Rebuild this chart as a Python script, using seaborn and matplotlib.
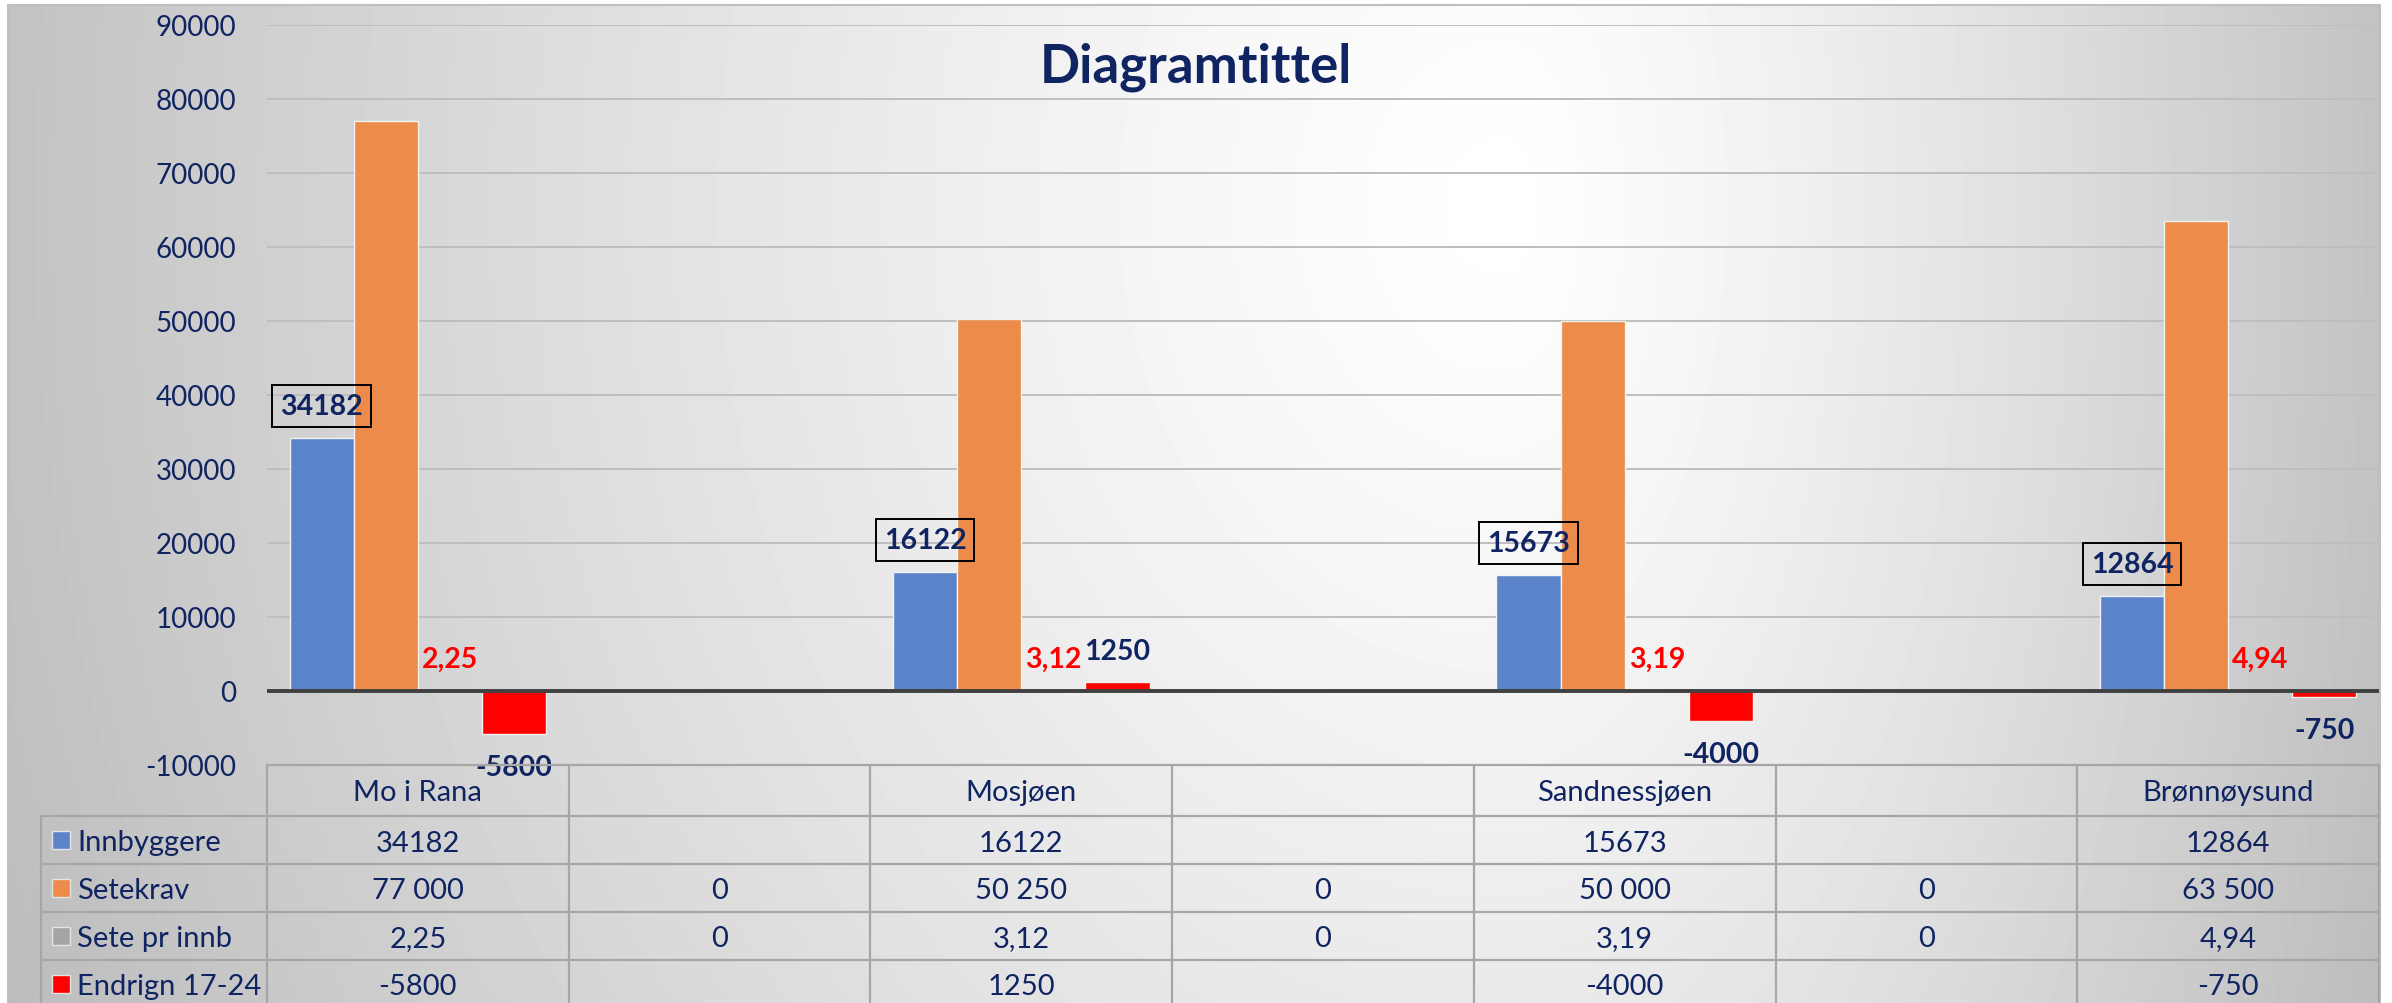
import numpy as np
import pandas as pd
import matplotlib
matplotlib.use("Agg")
import matplotlib.pyplot as plt
import matplotlib.transforms as mtransforms
from matplotlib.patches import Rectangle
from matplotlib.lines import Line2D
import seaborn as sns

# ---------------- data ----------------
categories = ["Mo i Rana", "", "Mosjøen", "", "Sandnessjøen", "", "Brønnøysund"]
series_names = ["Innbyggere", "Setekrav", "Sete pr innb", "Endrign 17-24"]
innbyggere = [34182, None, 16122, None, 15673, None, 12864]
setekrav = [77000, 0, 50250, 0, 50000, 0, 63500]
sete_pr_innb = [2.25, 0, 3.12, 0, 3.19, 0, 4.94]
endring = [-5800, None, 1250, None, -4000, None, -750]
y_ticks = [-10000, 0, 10000, 20000, 30000, 40000, 50000, 60000, 70000, 80000, 90000]
title = "Diagramtittel"

series_values = [innbyggere, setekrav, sete_pr_innb, endring]
colors = ["#5B83C9", "#EC8B4A", "#A5A5A5", "#FF0000"]
NAVY = "#0F2461"

sns.set_theme(style="white")
plt.rcParams["font.family"] = ["Lato", "DejaVu Sans"]

W, H = 2392, 1004
fig = plt.figure(figsize=(W / 100, H / 100), dpi=100)
fig.patch.set_facecolor("white")


def fy(px):
    return 1 - px / H


def fx(px):
    return px / W


# ---------------- background gradient ----------------
bg = fig.add_axes([0, 0, 1, 1], zorder=-10)
ny, nx = 251, 598
xs = np.linspace(0, 1, nx)
ys = np.linspace(0, 1, ny)
X, Y = np.meshgrid(xs, ys)
cxg = 0.63
dx = np.where(X < cxg, (cxg - X) / cxg, (X - cxg) / (1 - cxg))
dy = (Y - 0.2)
d = np.sqrt(dx ** 2 + 0.3 * dy ** 2)
g = 255 - 60 * np.clip(d, 0, 1.15) ** 1.25
img = np.clip(g, 0, 255) / 255.0
bg.imshow(img, cmap="gray", vmin=0, vmax=1,
          extent=(fx(8), fx(2380), 0, fy(6)), aspect="auto",
          interpolation="bilinear")
bg.set_xlim(0, 1)
bg.set_ylim(0, 1)
bg.axis("off")
for xs_, ys_ in [([fx(8), fx(2380)], [fy(6), fy(6)]),
                 ([fx(8), fx(8)], [0, fy(6)]),
                 ([fx(2380), fx(2380)], [0, fy(6)])]:
    bg.add_line(Line2D(xs_, ys_, color="#BFBFBF", lw=1.5, transform=fig.transFigure))

# ---------------- main axes ----------------
ax = fig.add_axes([fx(267), fy(766), fx(2379) - fx(267), (766 - 26) / H])
ax.set_facecolor("none")

rows = []
for name, vals in zip(series_names, series_values):
    for i, v in enumerate(vals):
        if v is not None:
            rows.append({"pos": i, "series": name, "value": v})
df = pd.DataFrame(rows)

sns.barplot(data=df, x="pos", y="value", hue="series", order=list(range(len(categories))),
            hue_order=series_names, palette=colors, width=0.85, errorbar=None,
            saturation=1, legend=False, edgecolor="#F2F2F2", linewidth=1.0,
            ax=ax, zorder=3)

ax.set_xlim(-0.5, len(categories) - 0.5)
ax.set_ylim(y_ticks[0], y_ticks[-1])
ax.set_yticks(y_ticks, labels=[str(t) for t in y_ticks])
ax.set_xticks([])
ax.set_xlabel("")
ax.set_ylabel("")
ax.tick_params(axis="y", length=0, pad=22, labelsize=20, labelcolor=NAVY)
for s in ax.spines.values():
    s.set_visible(False)
ax.yaxis.grid(True, color="#BEBEBE", lw=1.4, zorder=0)
ax.set_axisbelow(True)
ax.axhline(0, color="#404040", lw=2.8, zorder=5)

PX = 0.72  # points per pixel at 100 dpi

for k, cont in enumerate(ax.containers):
    lab = cont.get_label()
    name = lab if lab in series_names else series_names[k]
    for bar in cont:
        h = bar.get_height()
        if h is None or np.isnan(h) or h == 0:
            continue
        xc = bar.get_x() + bar.get_width() / 2
        if name == "Innbyggere":
            ax.annotate(f"{h:.0f}", xy=(xc, h), xytext=(0, 32 * PX), textcoords="offset points",
                        ha="center", va="center", fontsize=20.5, fontweight="bold", color=NAVY,
                        bbox=dict(boxstyle="square,pad=0.28", fc="none", ec="black", lw=1.4),
                        zorder=6)
        elif name == "Sete pr innb":
            ax.annotate(f"{h:.2f}".replace(".", ","), xy=(xc, h), xytext=(0, 32 * PX),
                        textcoords="offset points", ha="center", va="center", fontsize=20.5,
                        fontweight="bold", color="#FF0000", zorder=6)
        elif name == "Endrign 17-24":
            off = 31 if h > 0 else -33
            ax.annotate(f"{h:.0f}", xy=(xc, h), xytext=(0, off * PX), textcoords="offset points",
                        ha="center", va="center", fontsize=20.5, fontweight="bold", color=NAVY,
                        zorder=6, annotation_clip=False)

# ---------------- data table ----------------
trans = mtransforms.blended_transform_factory(ax.transData, fig.transFigure)
LINE = "#A6A6A6"
TLW = 1.6
n = len(categories)
row_lines = [817, 865, 913, 961]
header_c = 791
row_c = [841, 889, 937, 985]
TFS = 21

# horizontal lines
fig.add_artist(Line2D([fx(267), fx(2379)], [fy(766), fy(766)], color=LINE, lw=TLW, zorder=2))
for y in row_lines:
    fig.add_artist(Line2D([fx(41), fx(2379)], [fy(y), fy(y)], color=LINE, lw=TLW, zorder=2))
# vertical lines
fig.add_artist(Line2D([fx(41), fx(41)], [fy(817), 0], color=LINE, lw=TLW, zorder=2))
for b in np.arange(-0.5, n, 1.0):
    fig.add_artist(Line2D([b, b], [fy(766), 0], color=LINE, lw=TLW, transform=trans, zorder=2))

# header
for i, c in enumerate(categories):
    if c:
        fig.text(i, fy(header_c), c, transform=trans, ha="center", va="center_baseline",
                 fontsize=TFS, color=NAVY)


def fmt(name, v):
    if name == "Setekrav":
        return f"{v:,.0f}".replace(",", " ")
    if float(v).is_integer():
        return f"{int(v)}"
    return f"{v:.2f}".replace(".", ",")


for r, (name, vals, col) in enumerate(zip(series_names, series_values, colors)):
    yc = fy(row_c[r])
    fig.add_artist(Rectangle((fx(52), yc - 9 / H), 18 / W, 18 / H, transform=fig.transFigure,
                             fc=col, ec="#E4E4E4", lw=1.0, zorder=3))
    fig.text(fx(77), yc, name, ha="left", va="center_baseline", fontsize=TFS, color=NAVY)
    for i, v in enumerate(vals):
        if v is None:
            continue
        fig.text(i, yc, fmt(name, v), transform=trans, ha="center", va="center_baseline",
                 fontsize=TFS, color=NAVY)

# title
fig.text(0.5, fy(83), title, ha="center", va="baseline", fontsize=38,
         fontweight="bold", color=NAVY)

fig.savefig("out.png", dpi=100)
